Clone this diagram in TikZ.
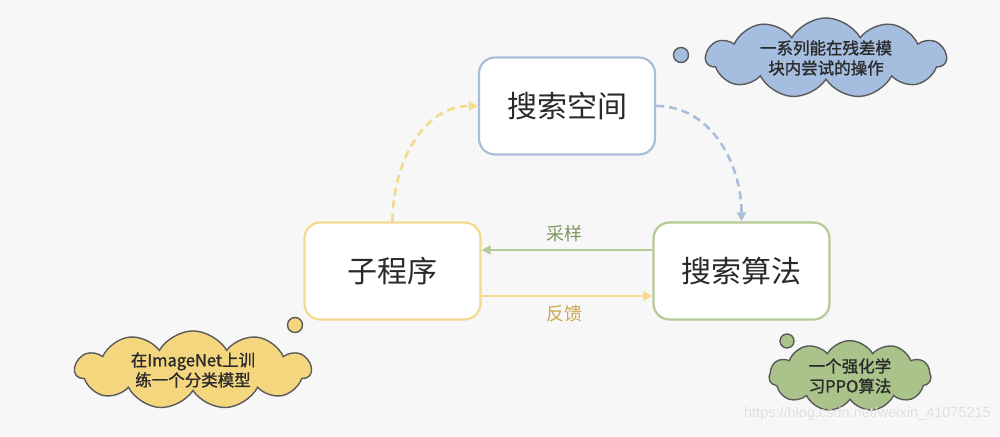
\documentclass[tikz,border=0pt]{standalone}
\usepackage{fontspec}
\setmainfont{Noto Sans CJK SC}
\newfontfamily\cloudfont[FakeBold=1.2]{Noto Sans CJK SC}
\newfontfamily\wmfont{Liberation Sans}
\usetikzlibrary{shapes.symbols,arrows.meta}
\definecolor{bg}{HTML}{F7F7F7}
\definecolor{bluebd}{HTML}{A9BEDA}
\definecolor{yellowbd}{HTML}{F3DA8E}
\definecolor{greenbd}{HTML}{B4CA97}
\definecolor{bluecl}{HTML}{A5BDDF}
\definecolor{yellowcl}{HTML}{F4D67F}
\definecolor{greencl}{HTML}{A9C38B}
\definecolor{cloudline}{HTML}{5A5A5A}
\definecolor{txt}{HTML}{2A2A2A}
\definecolor{lblgreen}{HTML}{7E9660}
\definecolor{lblyellow}{HTML}{C9A84E}
\tikzset{
  mainbox/.style={draw, rounded corners=16pt, line width=2.2pt, fill=white,
    minimum width=176pt, minimum height=97pt, inner sep=0pt,
    text=txt, font=\fontsize{30}{36}\selectfont},
  thought/.style={cloud, cloud puffs=11, cloud puff arc=120, draw=cloudline,
    line width=1.4pt, inner sep=0pt, align=center, text=txt,
    font=\cloudfont\fontsize{16.5}{20}\selectfont},
  bubble/.style={circle, draw=cloudline, line width=1.4pt, inner sep=0pt},
  flow/.style={line width=2.8pt, -{Triangle[length=9pt,width=9pt]}},
  dflow/.style={line width=2.6pt, dash pattern=on 8pt off 5pt,
    -{Triangle[length=9pt,width=9pt]}},
  lbl/.style={font=\fontsize{18}{22}\selectfont, inner sep=0pt}
}
\begin{document}
\begin{tikzpicture}[x=1pt,y=-1pt]
\useasboundingbox (0,0) rectangle (1000,436);
\fill[bg] (0,0) rectangle (1000,436);

\node[mainbox, draw=bluebd] (space) at (567,106) {搜索空间};
\node[mainbox, draw=yellowbd] (child) at (392.5,271) {子程序};
\node[mainbox, draw=greenbd] (algo) at (741.5,271) {搜索算法};

\draw[dflow, draw=yellowbd] (child.north) to[out=90,in=180] (space.west);
\draw[dflow, draw=bluebd] (space.east) to[out=0,in=90] (algo.north);

\coordinate (ga) at ([yshift=21pt]algo.west);
\coordinate (gc) at ([yshift=21pt]child.east);
\coordinate (yc) at ([yshift=-25pt]child.east);
\coordinate (ya) at ([yshift=-25pt]algo.west);
\draw[flow, draw=greenbd] (ga) -- (gc);
\draw[flow, draw=yellowbd] (yc) -- (ya);
\node[lbl, text=lblgreen] (l1) at (564,234) {采样};
\node[lbl, text=lblyellow] (l2) at (564,314) {反馈};

\node[thought, fill=bluecl, aspect=3.6, minimum width=240pt, minimum height=66pt] (c1) at (826,58)
  {一系列能在残差模\\块内尝试的操作};
\node[bubble, fill=bluecl, minimum size=15pt] (b1) at (681,55) {};

\node[thought, fill=yellowcl, aspect=3.4, minimum width=236pt, minimum height=66pt] (c2) at (193,370)
  {在ImageNet上训\\练一个分类模型};
\node[bubble, fill=yellowcl, minimum size=15pt] (b2) at (295,325) {};

\node[thought, fill=greencl, aspect=2.8, minimum width=162pt, minimum height=58pt] (c3) at (850,376)
  {一个强化学\\习PPO算法};
\node[bubble, fill=greencl, minimum size=14pt] (b3) at (787,341) {};

\node[font=\wmfont\fontsize{14.5}{17}\selectfont, text=black!12, anchor=east, inner sep=0pt] (wm) at (991,414) {https://blog.csdn.net/weixin\_41075215};
\end{tikzpicture}
\end{document}
